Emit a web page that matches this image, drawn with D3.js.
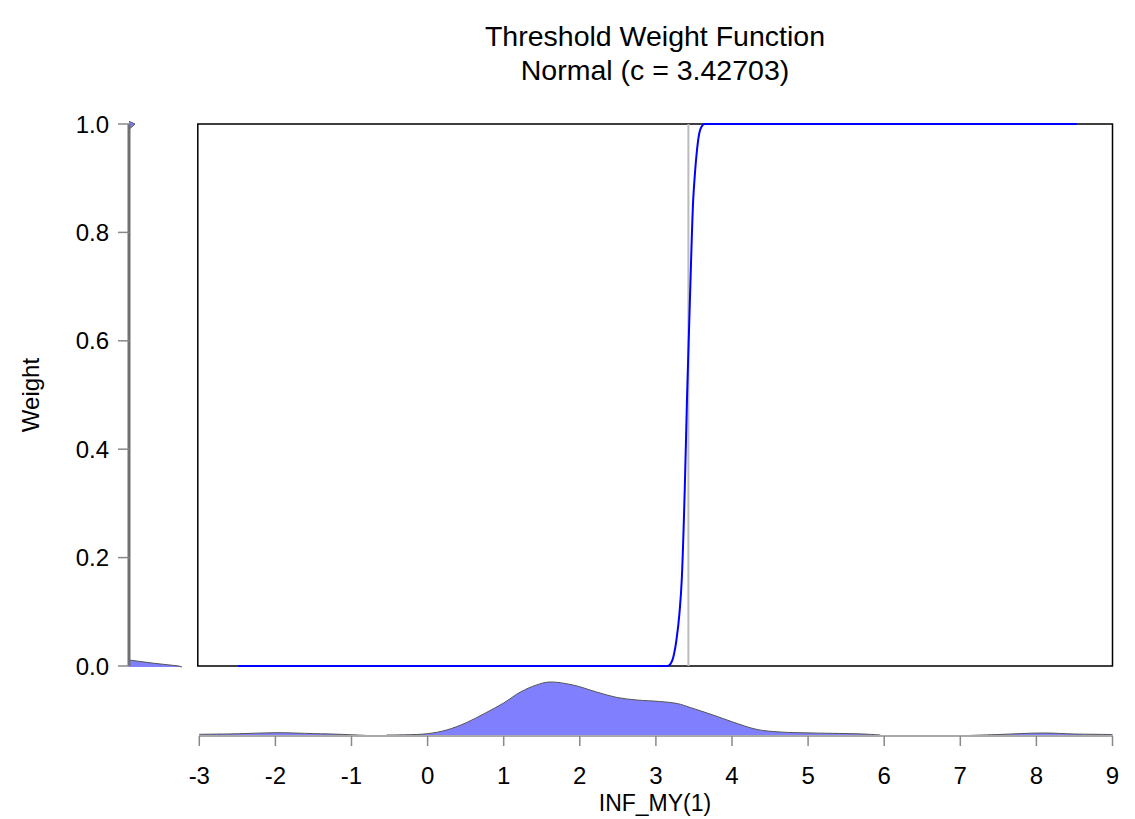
<!DOCTYPE html>
<html>
<head>
<meta charset="utf-8">
<script src="https://cdn.jsdelivr.net/npm/d3@7"></script>
<style>
  body { margin: 0; background: #fff; }
  svg text { font-family: "Liberation Sans", Arial, sans-serif; fill: #000; }
</style>
</head>
<body>
<svg id="chart" width="1135" height="819"></svg>
<script>
// threshold weight curve (normal cdf around c)
const curveX = [-2.49, 3.15, 3.18, 3.23, 3.27, 3.31, 3.34, 3.38, 3.41, 3.45, 3.49, 3.51, 3.54, 3.57, 3.60, 3.64, 8.53];
const curveW = [0, 0, 0.002, 0.017, 0.048, 0.098, 0.16, 0.33, 0.5, 0.69, 0.86, 0.903, 0.952, 0.983, 0.995, 1, 1];
const threshold = 3.42703;

// kernel density of INF_MY(1), drawn under the x axis (three pieces)
const densX1 = [-3.0, -2.5, -2.0, -1.5, -1.15, -0.79];
const densY1 = [0.017, 0.022, 0.033, 0.024, 0.017, 0.005];
const densX2 = [-0.54, -0.3, 0.0, 0.25, 0.5, 0.76, 1.0, 1.22, 1.43, 1.6, 1.91, 2.22, 2.49, 2.75, 3.05, 3.28, 3.45, 3.75, 4.01, 4.33, 4.63, 5.07, 5.72, 5.95];
const densY2 = [0.01, 0.012, 0.023, 0.06, 0.13, 0.23, 0.33, 0.44, 0.51, 0.54, 0.51, 0.44, 0.385, 0.36, 0.345, 0.325, 0.285, 0.21, 0.14, 0.065, 0.04, 0.03, 0.02, 0.01];
const densX3 = [7.1, 7.5, 8.1, 8.5, 9.0];
const densY3 = [0.005, 0.015, 0.03, 0.02, 0.015];

// kernel density of the weights, drawn left of the y axis
const wDensW = [-0.002, 0.0, 0.005, 0.011, 0.5, 0.99, 0.995, 1.0, 1.005];
const wDensD = [0.53, 0.5, 0.25, 0.0, 0.0, 0.0, 0.03, 0.06, 0.0];

const xTicks = [-3, -2, -1, 0, 1, 2, 3, 4, 5, 6, 7, 8, 9];
const yTicks = [0.0, 0.2, 0.4, 0.6, 0.8, 1.0];

const svg = d3.select('#chart');

const x = d3.scaleLinear().domain([-3, 9]).range([199.3, 1112.5]);
const y = d3.scaleLinear().domain([0, 1]).range([666, 124]);
const dens = d3.scaleLinear().domain([0, 1]).range([0, 100]);

const baseY = 736;   // bottom density baseline / x axis
const baseX = 129;   // left density baseline / y axis

// title
svg.append('text').attr('x', 655).attr('y', 46).attr('text-anchor', 'middle')
	.style('font-size', '28.5px').text('Threshold Weight Function');
svg.append('text').attr('x', 655).attr('y', 80).attr('text-anchor', 'middle')
	.style('font-size', '28.5px').text('Normal (c = 3.42703)');

// plot frame
svg.append('rect')
	.attr('x', x(-3) - 1.5).attr('y', y(1))
	.attr('width', x(9) - x(-3) + 1.5).attr('height', y(0) - y(1))
	.attr('fill', 'none').attr('stroke', '#000').attr('stroke-width', 1.5);

// threshold line
svg.append('line')
	.attr('x1', x(threshold)).attr('x2', x(threshold))
	.attr('y1', y(1)).attr('y2', y(0))
	.attr('stroke', '#bbb').attr('stroke-width', 2);

// weight curve
const line = d3.line()
	.x((d, i) => x(curveX[i]))
	.y(d => y(d))
	.curve(d3.curveMonotoneX);
svg.append('path').datum(curveW)
	.attr('d', line)
	.attr('fill', 'none').attr('stroke', '#0000ff').attr('stroke-width', 2);

// bottom densities
const area = d3.area()
	.x(d => x(d[0]))
	.y0(baseY)
	.y1(d => baseY - dens(d[1]))
	.curve(d3.curveCatmullRom.alpha(0.5));
const topLine = d3.line()
	.x(d => x(d[0]))
	.y(d => baseY - dens(d[1]))
	.curve(d3.curveCatmullRom.alpha(0.5));
[[densX1, densY1], [densX2, densY2], [densX3, densY3]].forEach(([xs, ys]) => {
	const pts = xs.map((v, i) => [v, ys[i]]);
	svg.append('path').datum(pts).attr('d', area).attr('fill', '#8080ff');
	svg.append('path').datum(pts).attr('d', topLine)
		.attr('fill', 'none').attr('stroke', '#555').attr('stroke-width', 1);
});

// x axis
svg.append('line')
	.attr('x1', x(-3)).attr('x2', x(9)).attr('y1', baseY).attr('y2', baseY)
	.attr('stroke', '#aaa').attr('stroke-width', 2);
svg.selectAll('.xtick').data(xTicks).enter().append('line')
	.attr('x1', d => x(d)).attr('x2', d => x(d))
	.attr('y1', baseY).attr('y2', baseY + 10)
	.attr('stroke', '#888').attr('stroke-width', 1.5);
svg.selectAll('.xlab').data(xTicks).enter().append('text')
	.attr('x', d => x(d)).attr('y', 784).attr('text-anchor', 'middle')
	.style('font-size', '24px').text(d => d);
svg.append('text').attr('x', 655).attr('y', 811).attr('text-anchor', 'middle')
	.style('font-size', '23px').text('INF_MY(1)');

// left density of weights
const leftPts = wDensW.map((w, i) => [w, wDensD[i]]);
const leftArea = d3.area()
	.y(d => y(d[0]))
	.x0(baseX)
	.x1(d => baseX + dens(d[1]));
svg.append('path').datum(leftPts).attr('d', leftArea)
	.attr('fill', '#8080ff');
svg.append('path').datum(leftPts)
	.attr('d', d3.line().y(d => y(d[0])).x(d => baseX + dens(d[1])))
	.attr('fill', 'none').attr('stroke', '#555').attr('stroke-width', 1);

// y axis
svg.append('line')
	.attr('x1', baseX).attr('x2', baseX).attr('y1', y(1)).attr('y2', y(0))
	.attr('stroke', '#707070').attr('stroke-width', 3);
svg.selectAll('.ytick').data(yTicks).enter().append('line')
	.attr('x1', baseX - 11).attr('x2', baseX)
	.attr('y1', d => y(d)).attr('y2', d => y(d))
	.attr('stroke', '#888').attr('stroke-width', 1.5);
svg.selectAll('.ylab').data(yTicks).enter().append('text')
	.attr('x', 109).attr('y', d => y(d) + 8.5).attr('text-anchor', 'end')
	.style('font-size', '24px').text(d => d.toFixed(1));
svg.append('text')
	.attr('transform', 'translate(39,395) rotate(-90)')
	.attr('text-anchor', 'middle')
	.style('font-size', '24px').text('Weight');
</script>
</body>
</html>
